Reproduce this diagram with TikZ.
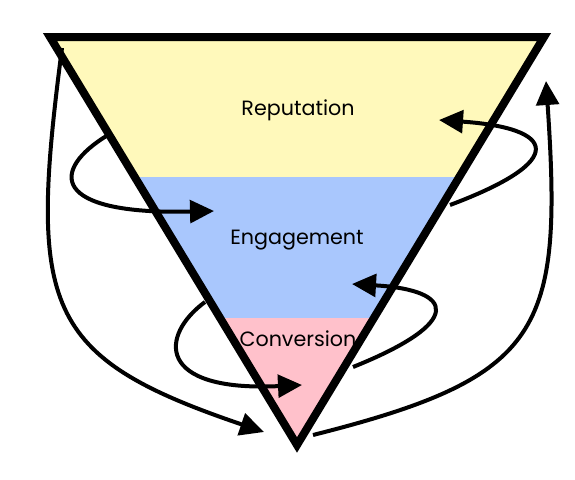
\documentclass[tikz,border=0pt]{standalone}
\usepackage{fontspec}
\setmainfont{Poppins}
\usepackage{xcolor}
\usepackage{tikz}
\usetikzlibrary{arrows.meta}
\definecolor{repfill}{RGB}{255,249,187}
\definecolor{engfill}{RGB}{169,199,253}
\definecolor{convfill}{RGB}{255,193,203}
\tikzstyle{stage}  = [font=\fontsize{15.5}{18}\selectfont, text=black]
\tikzstyle{funnel} = [draw=black, line width=6pt, line join=miter]
\tikzstyle{arrow}  = [line width=3pt, ->, >={Triangle[length=18pt,width=17pt]}]

\begin{document}
\begin{tikzpicture}[x=0.75pt, y=-0.75pt]
    \useasboundingbox (0,0) rectangle (575,479);

    % funnel corners
    \coordinate (tl)  at (50,37);
    \coordinate (tr)  at (544,37);
    \coordinate (bot) at (297,445);

    \begin{scope}
      \clip (tl) -- (tr) -- (bot) -- cycle;
      \fill [repfill]  (0,30)  rectangle (575,177);
      \fill [engfill]  (0,177) rectangle (575,318);
      \fill [convfill] (0,318) rectangle (575,460);
    \end{scope}
    \draw [funnel] (tl) -- (tr) -- (bot) -- cycle;

    \node (reputation) [stage] at (298,110) {Reputation};
    \node (engagement) [stage] at (297,240) {Engagement};
    \node (conversion) [stage] at (298,339) {Conversion};

    % loop ends
    \coordinate (outA) at (108,135);
    \coordinate (inA)  at (214,211);
    \coordinate (outB) at (450,205);
    \coordinate (inB)  at (439,120);
    \coordinate (outC) at (205,302);
    \coordinate (inC)  at (302,385);
    \coordinate (outD) at (353,367);
    \coordinate (inD)  at (352,284);
    \coordinate (outE) at (62,48);
    \coordinate (inE)  at (264,432);
    \coordinate (outF) at (313,435);
    \coordinate (inF)  at (546,81);

    \draw [arrow] (outA) .. controls (50,170) and (50,215) .. (inA);
    \draw [arrow] (outB) .. controls (570,160) and (555,128) .. (inB);
    \draw [arrow] (outC) .. controls (160,335) and (155,392) .. (inC);
    \draw [arrow] (outD) .. controls (465,322) and (455,290) .. (inD);
    \draw [arrow] (outE) .. controls (28,308) and (43,357) .. (inE);
    \draw [arrow] (outF) .. controls (543,377) and (563,332) .. (inF);

  \end{tikzpicture}
\end{document}
